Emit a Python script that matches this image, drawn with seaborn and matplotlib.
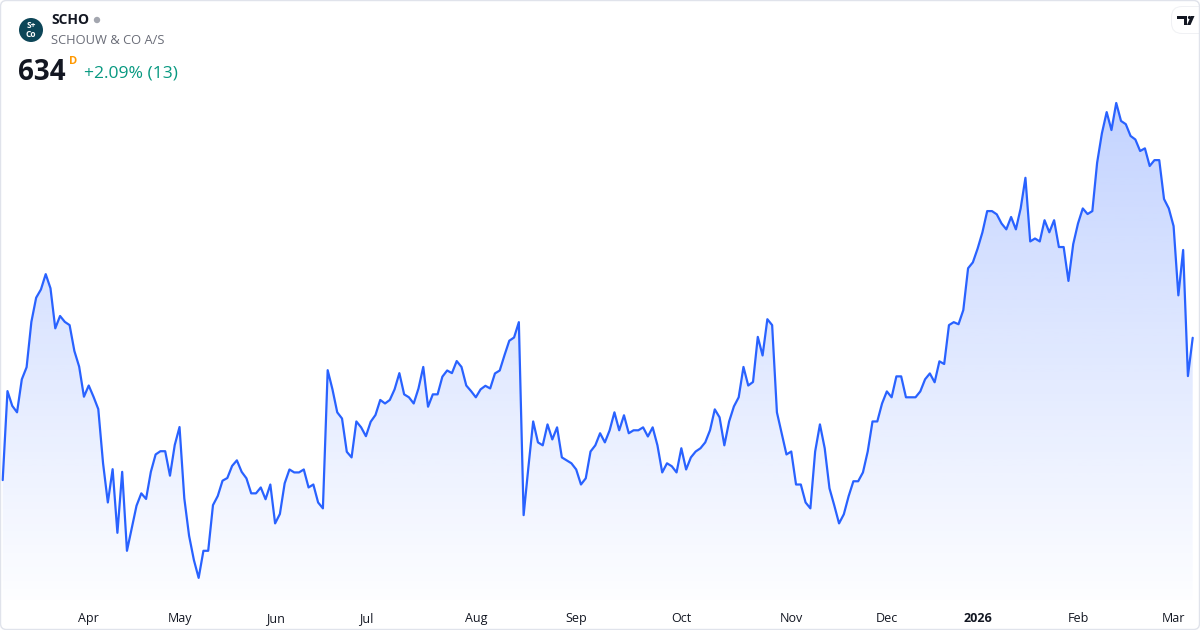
import numpy as np
import pandas as pd
import matplotlib
matplotlib.use("Agg")
import matplotlib.pyplot as plt
import seaborn as sns
from matplotlib.patches import Circle, FancyBboxPatch, Polygon
from matplotlib.transforms import IdentityTransform
from matplotlib.colors import to_rgb

# ---------------- data ----------------
start_date = "2025-03-06"
end_date = "2026-03-06"
holidays = ["2025-04-17", "2025-04-18", "2025-04-21", "2025-05-29", "2025-05-30",
            "2025-06-05", "2025-06-09", "2025-12-24", "2025-12-25", "2025-12-26",
            "2025-12-31", "2026-01-01"]

prices = [
    585.7, 615.9, 610.9, 608.7, 619.9, 624.0, 639.4, 647.6, 650.4, 655.6,
    650.8, 637.2, 641.4, 639.4, 638.3, 629.5, 624.2, 614.0, 617.8, 614.0,
    609.8, 591.4, 578.1, 589.4, 567.8, 588.5, 561.7, 569.3, 577.0, 581.2,
    579.3, 588.5, 594.4, 595.5, 595.5, 587.2, 597.6, 603.7, 579.5, 566.8,
    558.6, 552.5, 561.7, 561.7, 577.2, 580.3, 585.5, 586.4, 590.5, 592.4,
    588.5, 586.3, 581.2, 581.2, 583.2, 579.2, 584.2, 571.0, 574.2, 584.6,
    589.3, 588.3, 588.3, 589.3, 583.2, 584.2, 578.1, 576.1, 623.0, 616.5,
    608.7, 606.6, 595.3, 593.4, 605.6, 603.6, 600.6, 605.5, 607.8, 612.9,
    611.7, 612.9, 616.5, 622.0, 614.8, 613.8, 611.7, 616.8, 624.1, 610.6,
    614.8, 614.8, 620.8, 622.9, 622.0, 626.1, 624.1, 617.8, 615.9, 613.8,
    616.5, 617.7, 616.8, 621.9, 622.9, 628.1, 633.0, 634.1, 639.3, 573.8,
    590.1, 605.6, 598.5, 597.5, 604.6, 599.5, 603.6, 593.4, 592.4, 591.4,
    589.3, 584.2, 586.3, 595.4, 597.5, 601.6, 598.5, 602.6, 608.7, 602.6,
    607.7, 601.6, 602.6, 602.6, 603.6, 600.5, 603.6, 597.5, 588.3, 591.4,
    590.4, 588.3, 596.5, 589.3, 593.4, 595.4, 596.5, 598.5, 602.6, 609.7,
    607.0, 597.5, 605.6, 610.7, 613.8, 624.1, 617.8, 619.0, 634.3, 628.0,
    640.3, 638.3, 608.7, 601.6, 594.4, 595.4, 584.2, 584.2, 578.1, 576.1,
    595.4, 604.6, 596.5, 582.9, 577.1, 571.0, 574.1, 580.2, 585.3, 585.3,
    588.3, 595.4, 605.6, 605.6, 611.7, 615.8, 613.8, 620.9, 620.9, 613.8,
    613.8, 613.8, 615.8, 619.9, 621.9, 618.9, 626.0, 625.1, 638.3, 639.3,
    638.6, 643.4, 657.6, 659.6, 664.3, 669.8, 677.0, 677.0, 675.9, 672.8,
    670.8, 675.0, 670.8, 677.9, 688.3, 666.7, 667.7, 666.7, 673.9, 669.8,
    673.9, 664.8, 664.8, 653.3, 665.8, 672.8, 677.9, 676.0, 677.0, 693.4,
    703.4, 710.6, 704.5, 713.7, 707.6, 706.5, 702.5, 701.3, 697.4, 698.3,
    692.3, 694.3, 694.3, 681.1, 677.9, 671.9, 648.4, 663.8, 621.0, 634.0,
]
tick_labels = ["Apr", "May", "Jun", "Jul", "Aug", "Sep", "Oct", "Nov", "Dec", "2026", "Feb", "Mar"]

ticker = "SCHO"
company = "SCHOUW & CO A/S"
last_price = "634"
change_text = "+2.09% (13)"

# ---------------- build frame ----------------
dates = pd.bdate_range(start_date, end_date)
dates = dates[~dates.isin(pd.to_datetime(holidays))]
n = min(len(dates), len(prices))
df = pd.DataFrame({"date": dates[-n:], "price": prices[-n:]})
df["idx"] = np.arange(n)

per = df["date"].dt.to_period("M")
first_idx = df.groupby(per)["idx"].min()
tick_pos = list(first_idx.values[1:1 + len(tick_labels)])

# ---------------- figure ----------------
sns.set_style("white")
plt.rcParams["font.family"] = ["Open Sans", "DejaVu Sans"]

W, H = 1200, 630
fig = plt.figure(figsize=(W / 100, H / 100), dpi=100)
fig.patch.set_facecolor("white")
ax = fig.add_axes([0, 30 / H, 1, 510 / H])
ax.set_facecolor("none")

line_col = "#2962FF"
sns.lineplot(data=df, x="idx", y="price", ax=ax, color=line_col, linewidth=1.6, zorder=3)

px_per_bar = 4.78
x0 = -2.7 / px_per_bar
x1 = (n - 1) + (W - 1192.7) / px_per_bar
ybot, ytop = 545.0, 718.1

# gradient fill under curve
rgb = to_rgb(line_col)
grad = np.zeros((256, 1, 4))
grad[..., :3] = rgb
grad[..., 3] = np.linspace(0.28, 0.01, 256).reshape(-1, 1)
top_v = max(df["price"])
im = ax.imshow(grad, extent=[x0, x1, ybot, top_v], aspect="auto", origin="upper", zorder=1,
               interpolation="bilinear")
fb = ax.fill_between(df["idx"], df["price"], ybot, color="none", linewidth=0)
im.set_clip_path(fb.get_paths()[0], transform=ax.transData)

ax.set_xlim(x0, x1)
ax.set_ylim(ybot, ytop)
ax.set_yticks([])
ax.set_ylabel("")
ax.set_xlabel("")
ax.set_xticks(tick_pos)
ax.set_xticklabels(tick_labels)
ax.tick_params(axis="x", length=0, pad=8.5, labelsize=9, labelcolor="#131722")
for lab in ax.get_xticklabels():
    if lab.get_text() == "2026":
        lab.set_fontweight("bold")
for s in ax.spines.values():
    s.set_visible(False)

# ---------------- header ----------------
def fx(x):
    return x / W

def fy(y):
    return 1 - y / H

ident = IdentityTransform()
fig.add_artist(Circle((31, H - 30), 12, transform=ident, facecolor="#0d4658", edgecolor="none"))
fig.text(fx(31), fy(25.5), "S+", color="white", fontsize=6, fontweight="bold", ha="center", va="center")
fig.text(fx(31), fy(34.5), "Co", color="white", fontsize=6, fontweight="bold", ha="center", va="center")

fig.text(fx(51), fy(20), ticker, fontsize=10, fontweight="bold", color="#131722", ha="left", va="center")
fig.add_artist(Circle((97, H - 20), 3.2, transform=ident, facecolor="#a3a6af", edgecolor="none"))
fig.text(fx(51), fy(40), company, fontsize=9.3, color="#6a6d78", ha="left", va="center")
fig.text(fx(18), fy(72), last_price, fontsize=20, fontweight="bold", color="#131722", ha="left", va="center")
fig.text(fx(69.5), fy(62), "D", fontsize=8, fontweight="bold", color="#ff9800", ha="left", va="center")
fig.text(fx(84), fy(74), change_text, fontsize=12.6, color="#089981", ha="left", va="center")

# TradingView badge (top right)
fig.add_artist(FancyBboxPatch((1171, H - 34), 44, 28, boxstyle="round,pad=0,rounding_size=11",
                              transform=ident, facecolor="#f0f1f4", edgecolor="none"))
fig.add_artist(FancyBboxPatch((1172, H - 33), 42, 26, boxstyle="round,pad=0,rounding_size=10",
                              transform=ident, facecolor="white", edgecolor="none"))
fig.add_artist(Polygon([(1177, H - 16), (1187, H - 16), (1187, H - 25), (1184, H - 25),
                        (1184, H - 19), (1177, H - 19)], closed=True, transform=ident,
                       facecolor="#131722", edgecolor="none"))
fig.add_artist(Circle((1189.5, H - 17.5), 1.6, transform=ident, facecolor="#131722", edgecolor="none"))
fig.add_artist(Polygon([(1191, H - 16), (1194.5, H - 16), (1190.5, H - 25), (1187, H - 25)],
                       closed=True, transform=ident, facecolor="#131722", edgecolor="none"))

# outer border
fig.add_artist(FancyBboxPatch((0.5, 0.5), W - 1, H - 1, boxstyle="round,pad=0,rounding_size=6",
                              transform=ident, facecolor="none", edgecolor="#e0e3eb", linewidth=1))

fig.savefig("out.png", dpi=100, facecolor="white")
